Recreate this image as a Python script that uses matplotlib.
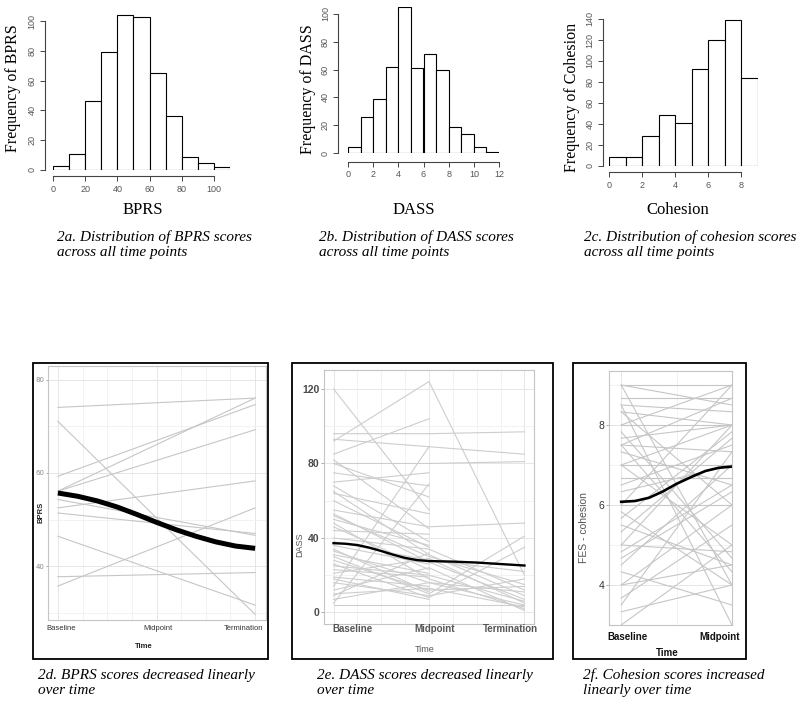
import numpy as np
import matplotlib.pyplot as plt
from matplotlib.patches import Rectangle

W, H, DPI = 800, 706, 100
SANS = "Liberation Sans"
SERIF = "Liberation Serif"

# ---- histogram data (top row) ----
bprs_edges = [0, 10, 20, 30, 40, 50, 60, 70, 80, 90, 100, 110]
bprs_counts = [3, 11, 46, 79, 104, 103, 65, 36, 9, 5, 2]
dass_edges = [0, 1, 2, 3, 4, 5, 6, 7, 8, 9, 10, 11, 12]
dass_counts = [4, 26, 39, 62, 105, 61, 71, 60, 19, 14, 4, 1]
coh_edges = [0, 1, 2, 3, 4, 5, 6, 7, 8, 9]
coh_counts = [9, 9, 29, 49, 41, 92, 120, 139, 84]

# ---- spaghetti data (bottom row) ----
time_labels = ["Baseline", "Midpoint", "Termination"]

bprs_base = [74.1, 71.1, 59.3, 56.1, 56.1, 54.3, 52.5, 51.4, 46.4, 37.7, 35.7]
bprs_term = [76.1, 29.6, 74.7, 76.1, 69.3, 46.6, 58.3, 47.0, 31.6, 38.6, 52.5]
bprs_fit_x = [1.0, 1.2, 1.4, 1.6, 1.8, 2.0, 2.2, 2.4, 2.6, 2.8, 3.0]
bprs_fit_y = [55.7, 55.0, 54.0, 52.7, 51.1, 49.4, 47.8, 46.4, 45.2, 44.3, 43.8]

nan = np.nan
dass_base = [120, 96, 93, 92, 85, 80, 80, 70, 68, 65, 64, 55, 53, 50, 48, 46, 40, 36,
             33, 31, 30, 28, 26, 23, 21, 19, 16, 14, 12, 9, 7, 5, 4, 44, 38, 60, 75,
             10, 34, 25, 18, 52, 82]
dass_mid = [55, 96, 89, 124, 104, 80, 62, 75, 38, 31, 53, 46, 27, 36, 18, 23, 34, 26,
            16, 21, 10, 12, 8, 19, 29, 14, 9, 89, 24, 32, 16, 69, 4, 42, 28, 35, 68,
            13, 11, 20, 7, 30, 45]
dass_term = [nan, 97, 85, 20, nan, 81, nan, nan, nan, 9, nan, 48, 7, nan, 2, nan, 12, nan,
             4, nan, 41, 14, 35, nan, 5, nan, 18, nan, 1, nan, 11, nan, 4, nan, 22, nan, nan,
             3, nan, 6, nan, 15, nan]
dass_fit_x = [1.0, 1.125, 1.25, 1.375, 1.5, 1.625, 1.75, 1.875, 2.0, 2.25, 2.5, 2.75, 3.0]
dass_fit_y = [37.2, 36.9, 36.2, 34.8, 33.0, 31.0, 29.3, 28.1, 27.6, 27.3, 26.8, 26.0, 25.2]

coh_base = [9.0, 9.0, 9.0, 8.67, 8.5, 8.5, 8.33, 8.33, 8.0, 8.0, 7.67, 7.5, 7.5, 7.5,
            7.33, 7.0, 7.0, 7.0, 6.67, 6.5, 6.0, 6.0, 5.67, 5.5, 5.33, 5.0, 5.0, 4.67,
            4.5, 4.33, 4.0, 4.0, 3.67, 3.5, 3.33, 3.0, 6.33, 5.83, 4.83, 7.83]
coh_mid = [9.0, 8.5, 4.0, 8.67, 8.33, 3.0, 8.0, 6.0, 8.0, 9.0, 8.0, 7.33, 4.33, 8.67,
           6.5, 7.0, 8.0, 5.0, 6.67, 7.5, 9.0, 6.0, 7.83, 4.5, 7.67, 4.83, 8.0, 6.33,
           7.0, 3.5, 4.5, 6.0, 5.5, 7.33, 4.0, 5.0, 7.0, 4.0, 6.5, 4.67]
coh_fit_x = [1.0, 1.125, 1.25, 1.37, 1.5, 1.64, 1.76, 1.88, 2.0]
coh_fit_y = [6.08, 6.10, 6.18, 6.33, 6.53, 6.71, 6.85, 6.93, 6.96]


def px_axes(fig, x0, y0, x1, y1):
    return fig.add_axes([x0 / W, 1 - y1 / H, (x1 - x0) / W, (y1 - y0) / H])


def ftext(fig, x, y, s, **kw):
    return fig.text(x / W, 1 - y / H, s, **kw)


def hist_panel(fig, box, edges, counts, xlim, ylim, xticks, yticks, out_x, out_y):
    ax = px_axes(fig, *box)
    widths = np.diff(edges)
    ax.bar(edges[:-1], counts, width=widths, align="edge", color="white",
           edgecolor="black", linewidth=0.8)
    ax.set_xlim(*xlim)
    ax.set_ylim(*ylim)
    for s in ["top", "right"]:
        ax.spines[s].set_visible(False)
    ax.spines["left"].set_position(("outward", out_y))
    ax.spines["bottom"].set_position(("outward", out_x))
    ax.spines["left"].set_bounds(yticks[0], yticks[-1])
    ax.spines["bottom"].set_bounds(xticks[0], xticks[-1])
    for s in ["left", "bottom"]:
        ax.spines[s].set_color("#444444")
        ax.spines[s].set_linewidth(0.8)
    ax.set_xticks(xticks)
    ax.set_yticks(yticks)
    ax.tick_params(length=3.5, width=0.7, color="#444444", labelsize=6.5,
                   labelcolor="#555555", pad=2.5)
    for lab in ax.get_xticklabels() + ax.get_yticklabels():
        lab.set_family(SANS)
    for lab in ax.get_yticklabels():
        lab.set_rotation(90)
        lab.set_va("center")
    return ax


def gg_panel(fig, box, xlim, ylim, xmajor, xminor, ymajor, yminor, ylabels, ysize,
             ycolor, tick_len):
    ax = px_axes(fig, *box)
    ax.set_xlim(*xlim)
    ax.set_ylim(*ylim)
    ax.set_xticks(xmajor)
    ax.set_xticks(xminor, minor=True)
    ax.set_yticks(ymajor)
    ax.set_yticks(yminor, minor=True)
    ax.set_yticklabels(ylabels)
    ax.set_xticklabels([])
    ax.grid(which="major", color="#e6e6e6", linewidth=0.7)
    ax.grid(which="minor", color="#f0f0f0", linewidth=0.6)
    ax.set_axisbelow(True)
    ax.tick_params(which="minor", length=0)
    ax.tick_params(axis="x", which="major", length=0)
    ax.tick_params(axis="y", which="major", length=tick_len, width=0.5,
                   color="#888888", labelsize=ysize, labelcolor=ycolor, pad=1.2)
    for s in ax.spines.values():
        s.set_color("#c4c4c4")
        s.set_linewidth(0.8)
    return ax


def xlabels(ax, positions, labels, offsets_px, dy_px, size, weight, color):
    for x, lab, dx in zip(positions, labels, offsets_px):
        ax.annotate(lab, xy=(x, 0), xycoords=("data", "axes fraction"),
                    xytext=(dx * 0.72, -dy_px * 0.72), textcoords="offset points",
                    ha="center", va="center", fontsize=size, fontweight=weight,
                    color=color, family=SANS, annotation_clip=False)


def box(fig, x0, y0, x1, y1):
    fig.add_artist(Rectangle((x0 / W, 1 - y1 / H), (x1 - x0) / W, (y1 - y0) / H,
                             transform=fig.transFigure, fill=False,
                             edgecolor="black", linewidth=1.3))


fig = plt.figure(figsize=(W / DPI, H / DPI), dpi=DPI)

cap_kw = dict(family=SERIF, style="italic", fontsize=11, va="top", ha="left",
              linespacing=1.25)
lab_kw = dict(family=SERIF, fontsize=12, ha="center", va="center")
ylab_kw = dict(family=SERIF, fontsize=11.5, ha="center", va="center", rotation=90)

# 2a
hist_panel(fig, (53, 13.6, 230, 170), bprs_edges, bprs_counts, (0, 110), (0, 105),
           [0, 20, 40, 60, 80, 100], [0, 20, 40, 60, 80, 100], 4.5, 6)
ftext(fig, 143, 210, "BPRS", **lab_kw)
ftext(fig, 13, 88, "Frequency of BPRS", **ylab_kw)
ftext(fig, 57, 230, "2a. Distribution of BPRS scores\nacross all time points", **cap_kw)

# 2b
hist_panel(fig, (348, 7, 499, 153), dass_edges, dass_counts, (0, 12), (0, 105),
           [0, 2, 4, 6, 8, 10, 12], [0, 20, 40, 60, 80, 100], 6.5, 7)
ftext(fig, 414, 210, "DASS", **lab_kw)
ftext(fig, 308, 89, "Frequency of DASS", **ylab_kw)
ftext(fig, 319, 230, "2b. Distribution of DASS scores\nacross all time points", **cap_kw)

# 2c
hist_panel(fig, (609, 19, 757.5, 166), coh_edges, coh_counts, (0, 9), (0, 140),
           [0, 2, 4, 6, 8], [0, 20, 40, 60, 80, 100, 120, 140], 4.5, 4.5)
ftext(fig, 678, 210, "Cohesion", **lab_kw)
ftext(fig, 572, 97, "Frequency of Cohesion", **ylab_kw)
ftext(fig, 584, 230, "2c. Distribution of cohesion scores\nacross all time points", **cap_kw)

# 2d
box(fig, 33, 363, 268, 659)
ax = gg_panel(fig, (48, 366, 266, 620), (0.9, 3.11), (28.4, 83.0), [1, 2, 3],
              [1.25, 1.5, 1.75, 2.25, 2.5, 2.75], [40, 60, 80], [30, 50, 70],
              ["40", "60", "80"], 5, "#8a8a8a", 1.5)
for s, e in zip(bprs_base, bprs_term):
    ax.plot([1, 3], [s, e], color="#c6c6c6", linewidth=0.8)
ax.plot(bprs_fit_x, bprs_fit_y, color="black", linewidth=3.6, solid_capstyle="butt",
        solid_joinstyle="round")
xlabels(ax, [1, 2, 3], time_labels, [3, 1, -12], 9, 5.5, "normal", "#333333")
ftext(fig, 144, 646, "Time", family=SANS, fontsize=5.5, fontweight="bold",
      ha="center", va="center", color="#222222")
ftext(fig, 41, 512, "BPRS", family=SANS, fontsize=5.5, fontweight="bold",
      ha="center", va="center", rotation=90, color="#222222")
ftext(fig, 38, 669, "2d. BPRS scores decreased linearly\nover time", **cap_kw)

# 2e
box(fig, 292, 363, 553, 659)
ax = gg_panel(fig, (324, 370, 534, 624), (0.9, 3.1), (-6.2, 130.2), [1, 2, 3],
              [1.25, 1.5, 1.75, 2.25, 2.5, 2.75], [0, 40, 80, 120], [20, 60, 100],
              ["0", "40", "80", "120"], 7.5, "#4a4a4a", 2)
for b, m, t in zip(dass_base, dass_mid, dass_term):
    ax.plot([1, 2, 3], [b, m, t], color="#cdcdcd", linewidth=0.8)
ax.plot(dass_fit_x, dass_fit_y, color="black", linewidth=1.7, solid_joinstyle="round")
for lab in ax.get_yticklabels():
    lab.set_fontweight("bold")
    lab.set_family(SANS)
xlabels(ax, [1, 2, 3], time_labels, [19, 6, -14], 5, 7, "bold", "#555555")
ftext(fig, 425, 650, "Time", family=SANS, fontsize=6.5, ha="center", va="center",
      color="#555555")
ftext(fig, 300, 545, "DASS", family=SANS, fontsize=6.5, ha="center", va="center",
      rotation=90, color="#555555")
ftext(fig, 317, 669, "2e. DASS scores decreased linearly\nover time", **cap_kw)

# 2f
box(fig, 573, 363, 746, 659)
ax = gg_panel(fig, (609, 371, 732, 625), (0.89, 2.0), (3.0, 9.35), [1, 2],
              [1.5], [4, 6, 8], [3, 5, 7, 9], ["4", "6", "8"], 7.5, "#333333", 2)
for s, e in zip(coh_base, coh_mid):
    ax.plot([1, 2], [s, e], color="#c6c6c6", linewidth=0.8)
ax.plot(coh_fit_x, coh_fit_y, color="black", linewidth=1.9, solid_joinstyle="round")
for lab in ax.get_yticklabels():
    lab.set_family(SANS)
xlabels(ax, [1, 2], time_labels[:2], [6, -12], 12, 7, "bold", "#111111")
ftext(fig, 667, 653, "Time", family=SANS, fontsize=7, fontweight="bold",
      ha="center", va="center", color="#111111")
ftext(fig, 584, 528, "FES - cohesion", family=SANS, fontsize=7.5, ha="center",
      va="center", rotation=90, color="#555555")
ftext(fig, 583, 668, "2f. Cohesion scores increased\nlinearly over time", **cap_kw)

fig.savefig("out.png", dpi=DPI)
